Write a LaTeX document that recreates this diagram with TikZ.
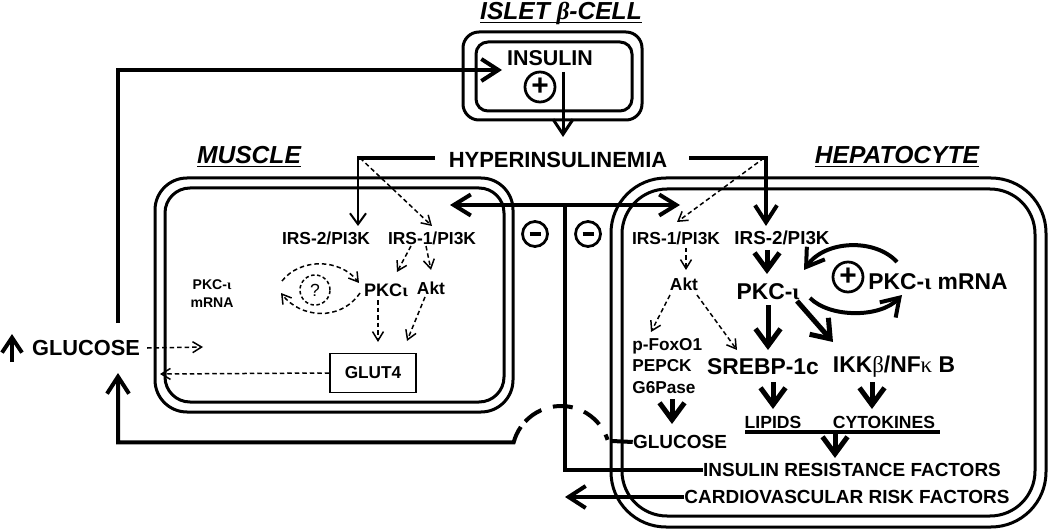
\documentclass[tikz,border=0pt]{standalone}
\usepackage{fontspec}
\setmainfont{Liberation Sans}
\newfontfamily\grk{Liberation Serif}
\usetikzlibrary{arrows.meta}

\tikzset{
  wall/.style={line width=0.6mm, rounded corners=#1},
  txt/.style={inner sep=0pt, font=\bfseries\fontsize{#1}{#1}\selectfont},
  ttl/.style={inner sep=0pt, font=\bfseries\itshape\fontsize{14}{14}\selectfont},
  loopline/.style={line width=0.8mm},
  bigtip/.style={-{Straight Barb[length=3.4mm,width=4.4mm]}},
  fat/.style={line width=1mm, -{Straight Barb[length=3.4mm,width=5mm]}},
  dsh/.style={line width=0.3mm, dash pattern=on 0.9mm off 0.6mm, -{Straight Barb[length=1.8mm,width=2.2mm]}},
  thinarr/.style={line width=0.4mm, -{Straight Barb[length=2.2mm,width=3.2mm]}},
  sign/.style={circle, draw, line width=0.55mm, inner sep=0pt, minimum size=#1},
}

\begin{document}
\begin{tikzpicture}[x=0.2mm, y=-0.2mm]
\useasboundingbox (0,0) rectangle (1050,529);

% cells
\draw[wall=3.2mm] (463,32) rectangle (642,120);
\draw[wall=2.4mm] (476,42) rectangle (632,111);
\draw[wall=6.4mm] (155,178) rectangle (513,412);
\draw[wall=5mm] (165,188) rectangle (504,402);
\draw[wall=11mm] (611,178) rectangle (1046,527);
\draw[wall=9mm] (622,189) rectangle (1035,516);

\node[ttl, anchor=base] (islet) at (561,19.5) {\underline{ISLET \smash{\grk β}-CELL}};
\node[ttl, anchor=base] (muscle) at (249,164) {\underline{MUSCLE}};
\node[ttl, anchor=base] (hepato) at (897,164) {\underline{HEPATOCYTE}};

% beta cell and feedback loop
\node[txt=12.2] (insulin) at (550,58) {INSULIN};
\node[sign=6mm, font=\bfseries\fontsize{17}{17}\selectfont] (plus1) at (540,87) {+};
\node[txt=12.5] (hyper) at (558,160) {HYPERINSULINEMIA};
\node[txt=12.4] (glucose) at (86,348) {GLUCOSE};
\draw[loopline, -{Straight Barb[length=3mm,width=4mm]}] (12,362) -- (12,334);

\coordinate (gtop) at (118,323);
\coordinate (gbot) at (118,373);
\coordinate (insin) at (502,70);
\coordinate (insout) at (563,72);
\draw[loopline, bigtip] (gtop) |- (insin);
\draw[line width=0.6mm, -{Straight Barb[length=3mm,width=4mm]}] (insout) -- (563,137);

% hyperinsulinemia branches
\coordinate (hl) at (435,158);
\coordinate (hlc) at (358,158);
\coordinate (hr) at (689,158);
\coordinate (hrc) at (766,158);
\draw[line width=0.9mm] (hl) -- ([xshift=-0.2mm]hlc);
\draw[thinarr] (hlc) -- (358,226);
\draw[dsh] ([xshift=0.4mm]hlc) -- (432,226);
\draw[loopline, bigtip] (hr) -| (766,226);
\draw[dsh] ([xshift=-0.4mm]hrc) -- (677,222);

% insulin resistance factors
\node[txt=10.8] (irf) at (852,470) {INSULIN RESISTANCE FACTORS};
\node[txt=10.8] (cvrf) at (847,497) {CARDIOVASCULAR RISK FACTORS};
\coordinate (split) at (565,205);
\draw[loopline, {Straight Barb[length=3.4mm,width=4.2mm]}-{Straight Barb[length=3.4mm,width=4.2mm]}] (450,205) -- (680,205);
\draw[loopline] (irf.west) -| (split);
\draw[loopline, bigtip] (cvrf.west) -- (565,497);
\node[sign=5mm] (minus1) at (535,234) {\rule{2.2mm}{0.7mm}};
\node[sign=5mm] (minus2) at (588,234) {\rule{2.2mm}{0.7mm}};

% muscle
\node[txt=9.9] (m_irs2) at (326,238) {IRS-2/PI3K};
\node[txt=9.9] (m_irs1) at (432,238) {IRS-1/PI3K};
\node[txt=10.3] (m_pkc) at (386,290) {PKC{\grk ι}};
\node[txt=9.9] (m_akt) at (431,288) {Akt};
\node[inner sep=0pt, align=center, font=\bfseries\fontsize{8}{10.2}\selectfont] (m_mrna) at (212,294) {PKC-{\grk ι}\\mRNA};
\node[circle, draw, line width=0.3mm, dash pattern=on 0.7mm off 0.5mm, minimum size=6mm, inner sep=0pt, font=\fontsize{10}{10}\selectfont] (mq) at (315,290) {?};
\node[draw, line width=0.3mm, minimum width=17.2mm, minimum height=7.8mm, txt=9.8] (glut4) at (373,373) {GLUT4};
\draw[dsh] (411,246) -- (397,272);
\draw[dsh] (426,246) -- (431,270);
\draw[dsh] (282,281) .. controls (300,258) and (340,258) .. (359,283);
\draw[dsh] (360,293) .. controls (340,322) and (300,318) .. (281,293);
\draw[dsh] (378,300) -- (378,342);
\draw[dsh] (425,297) -- (407,341);
\draw[dsh] (glut4.west) -- (160,374);
\draw[dsh] ([xshift=1.4mm]glucose.east) -- (203,347);

% glucose output from liver
\coordinate (hop) at (561,455);
\node[txt=10.8] (h_gluc) at (680,442) {GLUCOSE};
\draw[loopline, bigtip] ([shift={(-145:49)}]hop) arc[start angle=-145, end angle=-165, radius=49] -| (gbot);
\draw[loopline, dash pattern=on 4mm off 2.4mm] ([shift={(-137:49)}]hop) arc[start angle=-137, end angle=-18, radius=49];
\draw[loopline] (612,441) -- (h_gluc.west);

% hepatocyte
\node[txt=9.9] (h_irs1) at (676,238) {IRS-1/PI3K};
\node[txt=10.7] (h_irs2) at (782,238) {IRS-2/PI3K};
\node[txt=9.9] (h_akt) at (684,284) {Akt};
\node[txt=13] (h_pkc) at (768,292) {PKC-{\grk ι}};
\node[sign=6mm, font=\bfseries\fontsize{17}{17}\selectfont] (plus2) at (848,277) {+};
\node[txt=13] (h_mrna) at (938,282) {PKC-{\grk ι} mRNA};
\node[inner sep=0pt, anchor=west, align=left, font=\bfseries\fontsize{9.8}{12}\selectfont] (h_fox) at (632,366) {p-FoxO1\\PEPCK\\G6Pase};
\node[txt=13] (srebp) at (763,367) {SREBP-1c};
\node[txt=13] (ikk) at (894,367) {IKK{\grk\mdseries β}/NF{\grk\mdseries κ} B};
\node[txt=10] (lipids) at (773,422) {LIPIDS};
\node[txt=10] (cyto) at (884,422) {CYTOKINES};

\draw[dsh] (686,248) -- (686,270);
\draw[dsh] (670,295) -- (651,332);
\draw[dsh] (697,295) -- (737,350);
\draw[fat] (767,250) -- (767,274);
\draw[loopline, bigtip] (897,262) .. controls (875,238) and (825,240) .. (804,270);
\draw[loopline, bigtip] (810,298) .. controls (830,318) and (880,318) .. (902,295);
\draw[fat] (768,305) -- (768,350);
\draw[fat] (797,301) -- (833,342);
\draw[fat] (672,399) -- (672,424);
\draw[fat] (773,382) -- (773,409);
\draw[fat] (872,382) -- (872,409);
\draw[loopline] (745,432) -- (940,432);
\draw[fat] (835,433) -- (835,458);
\end{tikzpicture}
\end{document}
